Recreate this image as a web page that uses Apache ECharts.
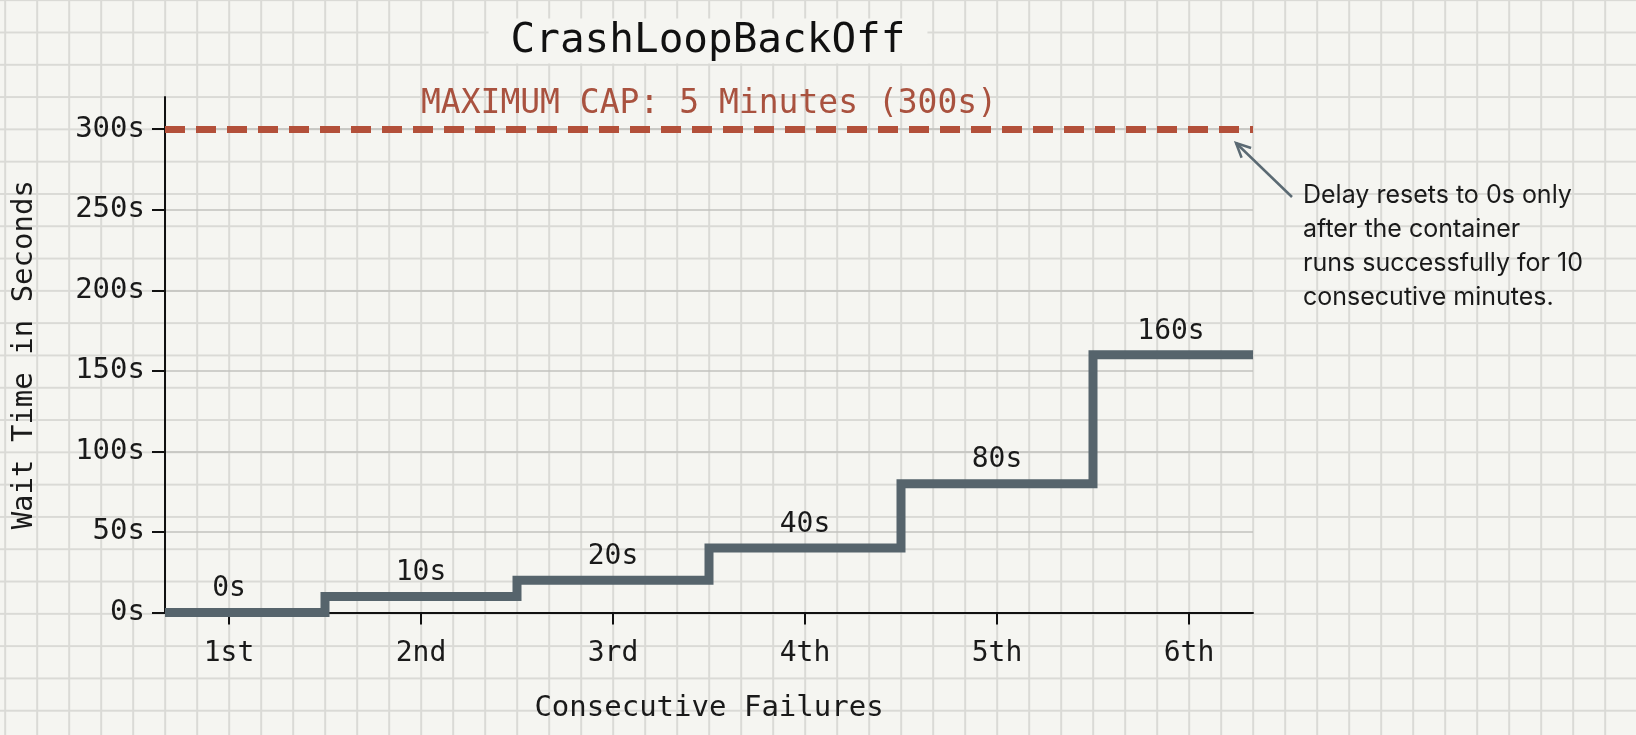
<!DOCTYPE html>
<html>
<head>
<meta charset="utf-8">
<script src="https://cdn.jsdelivr.net/npm/echarts@6/dist/echarts.min.js"></script>
<style>
  html, body { margin: 0; padding: 0; }
  #chart {
    width: 1636px; height: 735px;
    background-color: #f5f5f1;
    background-image:
      linear-gradient(to right, #dadad6 0, #dadad6 1.6px, transparent 1.6px),
      linear-gradient(to bottom, #dadad6 0, #dadad6 1.6px, transparent 1.6px);
    background-size: 32px 32.3px;
    background-position: 4.2px -0.8px;
  }
</style>
</head>
<body>
<div id="chart"></div>
<script>
// ---- data ----
const categories = ['1st', '2nd', '3rd', '4th', '5th', '6th'];
const waitSeconds = [0, 10, 20, 40, 80, 160];
const yTicks = [0, 50, 100, 150, 200, 250, 300];
const capValue = 300;
const capLabel = 'MAXIMUM CAP: 5 Minutes (300s)';
const titleText = 'CrashLoopBackOff';
const xAxisName = 'Consecutive Failures';
const yAxisName = 'Wait Time in Seconds';
const annotationLines = [
  'Delay resets to 0s only',
  'after the container',
  'runs successfully for 10',
  'consecutive minutes.'
];

// ---- layout ----
const MONO = '"DejaVu Sans Mono", "Liberation Mono", monospace';
const xPositions = categories.map((c, i) => i + 1);
const xMin = xPositions[0] - 1 / 3;
const xMax = xPositions[xPositions.length - 1] + 1 / 3;
const lastIdx = xPositions.length - 1;

const stepData = [
  { value: [xMin, waitSeconds[0]], label: { show: false } },
  ...xPositions.map((x, i) => ({
    value: [x, waitSeconds[i]],
    label: i === lastIdx ? { show: true, offset: [-18, 0] } : { show: true }
  })),
  { value: [xMax, waitSeconds[lastIdx]], label: { show: false } }
];

const chart = echarts.init(document.getElementById('chart'), null, { renderer: 'canvas' });

const option = {
  backgroundColor: 'transparent',
  animation: false,
  grid: { left: 165, right: 383, top: 97, bottom: 122.5 },
  xAxis: {
    type: 'value',
    min: xMin,
    max: xMax,
    name: xAxisName,
    nameLocation: 'middle',
    nameGap: 81,
    nameTextStyle: { fontFamily: MONO, fontSize: 29, color: '#1a1a1a' },
    axisLine: { show: true, onZero: false, lineStyle: { color: '#111', width: 2 } },
    axisTick: { show: true, length: 12, lineStyle: { color: '#111', width: 2 }, customValues: xPositions },
    axisLabel: {
      customValues: xPositions,
      margin: 27,
      fontFamily: MONO, fontSize: 28, color: '#1a1a1a',
      formatter: v => categories[Math.round(v) - 1] || ''
    },
    splitLine: { show: false }
  },
  yAxis: {
    type: 'value',
    min: 0,
    max: 320,
    name: yAxisName,
    nameLocation: 'middle',
    nameRotate: 90,
    nameGap: 126,
    nameTextStyle: { fontFamily: MONO, fontSize: 29, color: '#1a1a1a' },
    axisLine: { show: true, lineStyle: { color: '#111', width: 2 } },
    axisTick: { show: true, length: 13, lineStyle: { color: '#111', width: 2 }, customValues: yTicks },
    axisLabel: {
      customValues: yTicks,
      margin: 20,
      fontFamily: MONO, fontSize: 29, color: '#1a1a1a',
      formatter: v => v + 's'
    },
    splitLine: { show: true, lineStyle: { color: '#c2c2be', width: 1.6 } }
  },
  series: [{
    type: 'line',
    step: 'middle',
    data: stepData,
    symbol: 'circle',
    symbolSize: 1,
    showSymbol: true,
    showAllSymbol: true,
    itemStyle: { color: 'rgba(0,0,0,0)' },
    clip: false,
    z: 3,
    lineStyle: { color: '#56646c', width: 9, cap: 'butt', join: 'miter' },
    label: {
      show: true,
      position: 'top',
      distance: 9,
      fontFamily: MONO, fontSize: 28, color: '#1a1a1a',
      formatter: p => p.value[1] + 's'
    },
    markLine: {
      silent: true,
      symbol: 'none',
      data: [{ yAxis: capValue }],
      lineStyle: { color: '#b3503a', width: 7, type: [20, 11] },
      label: {
        show: true,
        position: 'middle',
        distance: 8,
        formatter: capLabel,
        fontFamily: MONO, fontSize: 33, color: '#a9523f'
      },
      emphasis: { disabled: true }
    }
  }],
  graphic: [
    {
      type: 'text',
      x: 708, y: 41,
      z: 10,
      silent: true,
      style: {
        text: titleText,
        font: '41px ' + MONO,
        fill: '#111',
        align: 'center',
        verticalAlign: 'middle',
        backgroundColor: '#f5f5f1',
        padding: [2, 22]
      }
    },
    {
      type: 'polyline',
      silent: true,
      z: 10,
      shape: { points: [[1292, 197], [1236, 143]] },
      style: { stroke: '#5b6a73', lineWidth: 2.5, fill: null }
    },
    {
      type: 'polyline',
      silent: true,
      z: 10,
      shape: { points: [[1241.6, 157.7], [1236, 143], [1251.1, 148]] },
      style: { stroke: '#5b6a73', lineWidth: 2.5, fill: null }
    },
    {
      type: 'text',
      silent: true,
      z: 10,
      x: 1303, y: 178,
      style: {
        text: annotationLines.join('\n'),
        font: '25px Inter, "Noto Sans", sans-serif',
        lineHeight: 34,
        fill: '#1a1a1a'
      }
    }
  ]
};
chart.setOption(option);
</script>
</body>
</html>
